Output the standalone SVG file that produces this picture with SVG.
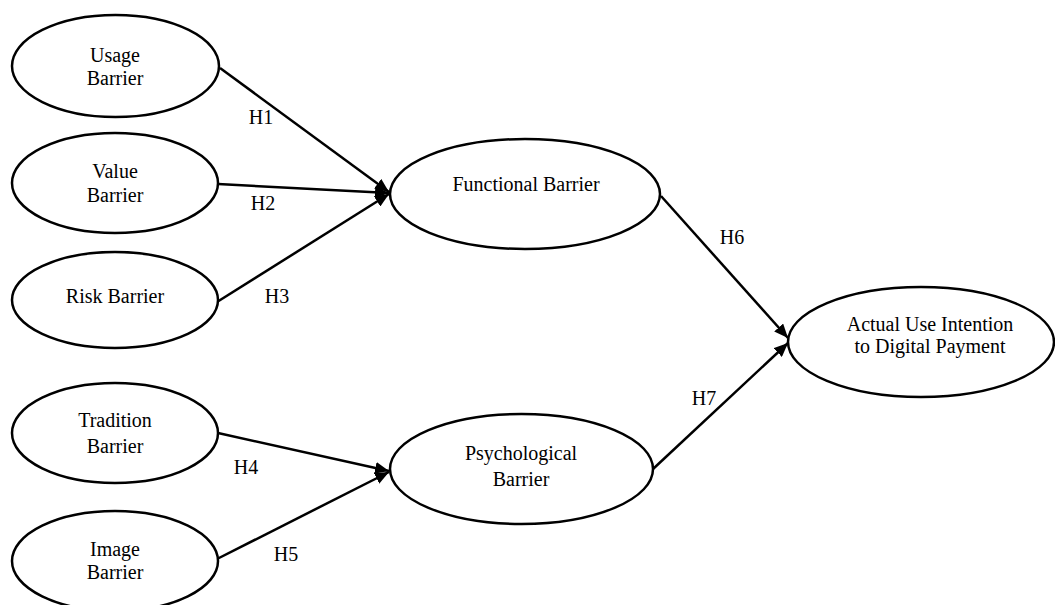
<svg xmlns="http://www.w3.org/2000/svg" width="1055" height="605" viewBox="0 0 1055 605">
<style>
.n{fill:#fff;stroke:#000;stroke-width:2.5}
.t{font-family:"Liberation Serif","Times New Roman",serif;font-size:20px;fill:#000;text-anchor:middle}
.c{stroke:#000;stroke-width:2.5;fill:none;marker-end:url(#ah)}
</style>
<defs>
<marker id="ah" markerUnits="userSpaceOnUse" viewBox="0 0 14 12" refX="14" refY="6" markerWidth="14" markerHeight="12" orient="auto">
<path d="M0,0 L14,6 L0,12 Z" fill="#000"/>
</marker>
</defs>
<rect width="1055" height="605" fill="#fff"/>
<g id="connectors">
<line class="c" x1="220" y1="68" x2="389" y2="192"/>
<line class="c" x1="218" y1="184" x2="389" y2="193"/>
<line class="c" x1="217" y1="302" x2="389" y2="194"/>
<line class="c" x1="218" y1="433" x2="389" y2="471"/>
<line class="c" x1="217" y1="559" x2="389" y2="472"/>
<line class="c" x1="661" y1="196" x2="788" y2="338"/>
<line class="c" x1="653" y1="469" x2="788" y2="343"/>
<text class="t" x="261" y="124">H1</text>
<text class="t" x="263" y="210">H2</text>
<text class="t" x="277" y="303">H3</text>
<text class="t" x="246" y="474">H4</text>
<text class="t" x="286" y="561">H5</text>
<text class="t" x="732" y="244">H6</text>
<text class="t" x="704" y="405">H7</text>
</g>
<g id="usage">
<ellipse class="n" cx="115.5" cy="66" rx="103.5" ry="51"/>
<text class="t" x="115" y="62">Usage</text>
<text class="t" x="115" y="85">Barrier</text>
</g>
<g id="value">
<ellipse class="n" cx="115" cy="183" rx="103" ry="50"/>
<text class="t" x="115" y="178">Value</text>
<text class="t" x="115" y="202">Barrier</text>
</g>
<g id="risk">
<ellipse class="n" cx="115" cy="300" rx="103" ry="48"/>
<text class="t" x="115" y="303">Risk Barrier</text>
</g>
<g id="tradition">
<ellipse class="n" cx="115" cy="433" rx="103" ry="50"/>
<text class="t" x="115" y="427">Tradition</text>
<text class="t" x="115" y="453">Barrier</text>
</g>
<g id="image">
<ellipse class="n" cx="115" cy="561" rx="103" ry="50"/>
<text class="t" x="115" y="556">Image</text>
<text class="t" x="115" y="579">Barrier</text>
</g>
<g id="functional">
<ellipse class="n" cx="525" cy="194" rx="135" ry="55"/>
<text class="t" x="526" y="191">Functional Barrier</text>
</g>
<g id="psychological">
<ellipse class="n" cx="521.5" cy="469" rx="131.5" ry="55"/>
<text class="t" x="521" y="460">Psychological</text>
<text class="t" x="521" y="486">Barrier</text>
</g>
<g id="actual">
<ellipse class="n" cx="921" cy="342" rx="133" ry="55"/>
<text class="t" x="930" y="331">Actual Use Intention</text>
<text class="t" x="930" y="353">to Digital Payment</text>
</g>
</svg>
